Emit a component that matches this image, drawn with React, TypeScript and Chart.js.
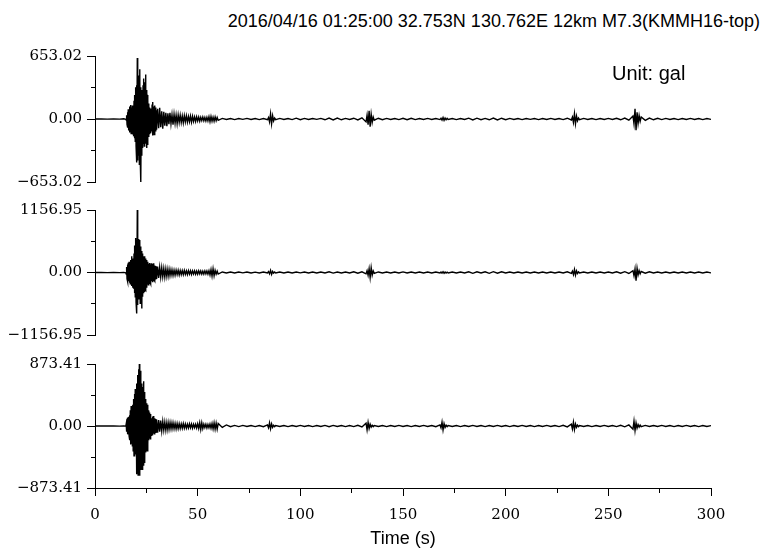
import React, { useEffect, useRef } from "react";
import { Chart, registerables } from "chart.js";

Chart.register(...registerables);

const titleText = "2016/04/16 01:25:00 32.753N 130.762E 12km M7.3(KMMH16-top)";
const unitText = "Unit: gal";
const xTitle = "Time (s)";

// shared time axis (s)
const timeS = [
  0, 3, 6, 9, 12, 14, 15,
  15.2, 15.4, 15.6, 15.8, 16, 16.2, 16.4, 16.6, 16.8, 17,
  17.2, 17.4, 17.6, 17.8, 18, 18.2, 18.4, 18.6, 18.8, 19,
  19.2, 19.4, 19.6, 19.8, 20, 20.2, 20.4, 20.6, 20.8, 21,
  21.2, 21.4, 21.6, 21.8, 22, 22.2, 22.4, 22.6, 22.8, 23,
  23.2, 23.4, 23.6, 23.8, 24, 24.2, 24.4, 24.6, 24.8, 25,
  25.2, 25.4, 25.6, 25.8, 26, 26.2, 26.4, 26.6, 26.8, 27,
  27.2, 27.4, 27.6, 27.8, 28, 28.2, 28.4, 28.6, 28.8, 29,
  29.2, 29.4, 29.6, 29.8, 30,
  30.5, 31, 31.5, 32, 32.5, 33, 33.5, 34, 34.5, 35,
  35.5, 36, 36.5, 37, 37.5, 38, 38.5, 39, 39.5, 40,
  40.5, 41, 41.5, 42, 42.5, 43, 43.5, 44, 44.5, 45,
  45.5, 46, 46.5, 47, 47.5, 48, 48.5, 49, 49.5, 50,
  50.5, 51, 51.5, 52, 52.5, 53, 53.5, 54, 54.5, 55,
  55.5, 56, 56.5, 57, 57.5, 58, 58.5, 59, 59.5, 60,
  62, 64, 66, 68, 70, 72, 74, 76, 78, 80, 82,
  84, 84.5, 85, 85.5, 86, 86.5, 87, 87.5, 88,
  90, 92, 94, 96, 98, 100, 102, 104, 106, 108,
  110, 112, 114, 116, 118, 120, 122, 124, 126, 128, 130,
  132, 132.5, 133, 133.5, 134, 134.5, 135, 135.5, 136,
  138, 140, 142, 144, 146, 148, 150, 152, 154, 156, 158, 160, 162, 164, 166,
  168, 168.5, 169, 169.5, 170, 170.5, 171, 171.5, 172,
  174, 176, 178, 180, 182, 184, 186, 188, 190, 192,
  194, 196, 198, 200, 202, 204, 206, 208, 210, 212,
  214, 216, 218, 220, 222, 224, 226, 228, 230,
  232, 232.5, 233, 233.5, 234, 234.5, 235, 235.5, 236,
  238, 240, 242, 244, 246, 248, 250, 252, 254, 256, 258, 260,
  262, 262.5, 263, 263.5, 264, 264.5, 265, 265.5, 266,
  268, 270, 272, 274, 276, 278, 280, 282, 284, 286,
  288, 290, 292, 294, 296, 298, 300,
];

// component 1 (gal)
const ewAccel = [
  0, 1, -1, 1, -1, 2, -3,
  -10, 40, -55, 70, -90, 100, -120, 95, -140, 130,
  -110, 145, -150, 120, -130, 140, -160, 110, -180, 190,
  -200, 250, -230, 330, -280, 350, -450, 632, -430, 450,
  -380, 360, -470, 515, -400, 330, -653.02, 300, -380, 280,
  -300, 350, -260, 420, -280, 380, -250, 460, -230, 300,
  -300, 250, -270, 200, -180, 160, -150, 120, -140, 110,
  -120, 90, -130, 150, -170, 175, -120, 130, -160, 140,
  -100, 120, -130, 90, -110,
  105, -95, 115, -85, 80, -100, 75, -70, 65, -75,
  60, -55, 65, -50, 45, -60, 50, -45, 40, -50,
  42, -35, 40, -36, 32, -40, 35, -30, 34, -32,
  26, -28, 30, -32, 28, -25, 22, -26, 22, -20,
  20, -22, 18, -17, 20, -18, 16, -20, 18, -20,
  24, -28, 26, -22, 20, -24, 22, -18, 16, -14,
  6, -5, 5, -6, 5, -4, 6, -5, 5, -6, 5,
  -8, 15, -30, 55, -50, 35, -20, 10, -6,
  6, -5, 5, -6, 9, -8, 6, -5, 5, -4,
  6, -8, 10, -9, 10, -8, 6, -5, 8, -10, 12,
  -30, 40, -60, 85, -80, 50, -35, 20, -12,
  8, -7, 6, -5, 5, -6, 7, -8, 7, -6, 5, -5, 6, -5, 5,
  -6, 8, -12, 15, -14, 10, -8, 6, -5,
  5, -6, 5, -5, 9, -10, 9, -7, 6, -8,
  10, -10, 8, -7, 6, -5, 5, -6, 5, -4,
  5, -6, 5, -5, 6, -5, 5, -6, 8,
  -10, 20, -35, 55, -50, 30, -18, 10, -8,
  6, -5, 5, -6, 5, -5, 6, -5, 7, -8, 10, -12,
  30, -50, 105, -115, 70, -45, 35, -25, 20,
  -14, 10, -8, 7, -6, 6, -5, 5, -6, 5,
  -5, 6, -5, 5, -6, 5, -4,
];

// component 2 (gal)
const nsAccel = [
  0, 2, -2, 2, -2, 3, -5,
  -30, 100, -120, 150, -170, 180, -160, 200, -190, 170,
  -210, 230, -180, 300, -250, 220, -280, 260, -300, 350,
  -380, 500, -450, 640, -550, 600, -760, 1156.95, -600, 520,
  -500, 620, -450, 600, -570, 480, -420, 400, -665, 350,
  -450, 300, -385, 280, -350, 300, -300, 260, -320, 230,
  -280, 200, -220, 180, -230, 160, -200, 175, -180, 150,
  -210, 170, -160, 140, -180, 160, -150, 170, -140, 130,
  -160, 120, -130, 110, -120,
  110, -100, 95, -85, 90, -80, 75, -85, 70, -75,
  65, -70, 60, -55, 50, -55, 45, -50, 45, -40,
  42, -45, 38, -40, 35, -38, 40, -35, 32, -38,
  35, -30, 32, -35, 30, -28, 32, -30, 28, -32,
  30, -25, 28, -30, 25, -28, 30, -25, 28, -30,
  35, -45, 55, -65, 70, -60, 40, -30, 25, -28,
  10, -8, 9, -10, 8, -7, 9, -8, 7, -9, 8,
  -10, 15, -25, 40, -35, 20, -12, 9, -8,
  9, -8, 10, -9, 8, -7, 9, -8, 10, -9,
  8, -10, 12, -11, 10, -8, 9, -10, 14, -12, 12,
  -25, 35, -50, 70, -95, 90, -50, 30, -15,
  10, -9, 8, -10, 9, -8, 12, -10, 9, -8, 10, -9, 8, -10, 9,
  -8, 10, -12, 15, -14, 10, -9, 8, -9,
  10, -8, 9, -10, 14, -16, 12, -10, 14, -16,
  15, -13, 12, -10, 9, -8, 10, -9, 8, -10,
  9, -8, 10, -9, 8, -10, 9, -8, 12,
  -15, 25, -40, 55, -50, 30, -18, 12, -9,
  10, -8, 9, -10, 8, -9, 10, -8, 12, -14, 15, -18,
  35, -60, 65, -150, 80, -45, 35, -25, 18,
  -14, 12, -10, 9, -8, 10, -9, 8, -10, 9,
  -8, 10, -9, 8, -10, 9, -8,
];

// component 3 (gal)
const udAccel = [
  0, 1, -1, 1, -2, 2, -4,
  30, -80, 100, -115, 120, -110, 130, -140, 150, -200,
  220, -260, 280, -250, 270, -280, 300, -350, 380, -420,
  450, -380, 520, -400, 480, -680, 600, -600, 720, -690,
  800, -560, 873.41, -700, 780, -620, 650, -590, 600, -610,
  550, -500, 630, -560, 480, -520, 380, -375, 350, -330,
  320, -350, 300, -260, 220, -200, 190, -180, 170, -190,
  150, -130, 110, -120, 130, -100, 140, -110, 100, -120,
  110, -90, 100, -85, 90,
  -95, 85, -80, 75, -70, 65, -60, 55, -60, 50,
  -55, 50, -45, 48, -42, 45, -40, 38, -42, 35,
  -38, 32, -35, 30, -32, 35, -30, 28, -30, 25,
  -28, 30, -25, 28, -30, 25, -22, 25, -28, 30,
  -35, 45, -50, 45, -35, 25, -22, 25, -28, 22,
  -25, 28, -30, 35, -40, 45, -45, 40, -45, 35,
  -20, 15, -10, 8, -8, 8, -7, 6, -8, 7, -9,
  15, -25, 45, -40, 30, -18, 10, -8, 7,
  -6, 7, -8, 6, -7, 8, -6, 7, -8, 6,
  -7, 8, -10, 9, -7, 6, -8, 7, -9, 10, -14,
  40, -55, 50, -35, 25, -15, 10, -8, 7,
  -6, 7, -8, 6, -7, 8, -6, 7, -8, 6, -7, 8, -6, 7, -10,
  15, -25, 55, -55, 35, -20, 12, -8, 7,
  -6, 7, -8, 6, -7, 8, -6, 7, -8, 6,
  -7, 8, -6, 7, -8, 6, -7, 8, -6, 7,
  -8, 6, -7, 8, -6, 7, -8, 10, -12,
  25, -40, 55, -50, 30, -18, 12, -8, 7,
  -6, 7, -8, 6, -7, 8, -6, 7, -8, 9, -12, 15,
  -45, 70, -65, 45, -30, 20, -15, 12, -10,
  8, -7, 6, -7, 8, -6, 7, -8, 6, -7,
  8, -6, 7, -8, 6, -7, 6,
];

// tick values
const ewTicks = [-653.02, -326.51, 0, 326.51, 653.02];
const nsTicks = [-1156.95, -578.475, 0, 578.475, 1156.95];
const udTicks = [-873.41, -436.705, 0, 436.705, 873.41];
const yTickMajor = [true, false, true, false, true];
const xTicks = [0, 25, 50, 75, 100, 125, 150, 175, 200, 225, 250, 275, 300];
const xTickLabels = ["0", "", "50", "", "100", "", "150", "", "200", "", "250", "", "300"];

const serif = "'DejaVu Serif', serif";
const sans = "'Liberation Sans', Arial, sans-serif";

function fmtY(v: number) {
  const s = Math.abs(v).toFixed(2);
  return v < 0 ? "\u2212" + s : s;
}

type PanelProps = {
  values: number[];
  ticks: number[];
  top: number;
  height: number;
  padTop: number;
  padBottom: number;
  showX: boolean;
};

function Panel({ values, ticks, top, height, padTop, padBottom, showX }: PanelProps) {
  const ref = useRef<HTMLCanvasElement | null>(null);
  useEffect(() => {
    if (!ref.current) return;
    const isMajorY = (v: number) => {
      const i = ticks.findIndex((t) => Math.abs(t - v) < 1e-6);
      return i >= 0 ? yTickMajor[i] : false;
    };
    const isMajorX = (v: number) => {
      const i = xTicks.indexOf(v);
      return i >= 0 ? xTickLabels[i] !== "" : false;
    };
    const chart = new Chart(ref.current, {
      type: "line",
      data: {
        datasets: [
          {
            data: timeS.map((t, i) => ({ x: t, y: values[i] })),
            borderColor: "#000",
            borderWidth: 1.4,
            pointRadius: 0,
            tension: 0,
            fill: false,
          },
        ],
      },
      options: {
        responsive: false,
        animation: false,
        events: [],
        layout: { padding: { left: 0, right: 52, top: padTop, bottom: padBottom } },
        plugins: {
          legend: { display: false },
          tooltip: { enabled: false },
          title: { display: false },
        },
        scales: {
          x: {
            type: "linear",
            min: 0,
            max: 300,
            display: showX,
            afterBuildTicks: (s: any) => {
              s.ticks = xTicks.map((v) => ({ value: v }));
            },
            afterFit: (s: any) => {
              if (showX) s.height = 68;
            },
            ticks: {
              autoSkip: false,
              maxRotation: 0,
              padding: 10,
              color: "#000",
              font: { family: serif, size: 15 },
              callback: (v: any) => {
                const i = xTicks.indexOf(Number(v));
                return i >= 0 ? xTickLabels[i] : "";
              },
            },
            grid: {
              drawOnChartArea: false,
              drawTicks: true,
              tickLength: 8,
              tickColor: "#000",
              tickWidth: 1,
              tickBorderDash: (ctx: any) => (isMajorX(ctx.tick?.value) ? [] : [4, 4]),
              tickBorderDashOffset: 0,
            },
            border: { display: true, color: "#000", width: 1 },
            title: {
              display: true,
              text: xTitle,
              color: "#000",
              font: { family: sans, size: 18 },
              padding: { top: 0, bottom: 6 },
            },
          },
          y: {
            type: "linear",
            min: ticks[0],
            max: ticks[ticks.length - 1],
            afterBuildTicks: (s: any) => {
              s.ticks = ticks.map((v) => ({ value: v }));
            },
            afterFit: (s: any) => {
              s.width = 95;
            },
            ticks: {
              autoSkip: false,
              padding: 5,
              color: "#000",
              font: { family: serif, size: 15 },
              callback: (v: any) => (isMajorY(Number(v)) ? fmtY(Number(v)) : ""),
            },
            grid: {
              drawOnChartArea: false,
              drawTicks: true,
              tickLength: 8,
              tickColor: "#000",
              tickWidth: 1,
              tickBorderDash: (ctx: any) => (isMajorY(ctx.tick?.value) ? [] : [4, 4]),
              tickBorderDashOffset: (ctx: any) => (isMajorY(ctx.tick?.value) ? 0 : 4),
            },
            border: { display: true, color: "#000", width: 1 },
          },
        },
      } as any,
    });
    return () => chart.destroy();
  }, []);
  return (
    <canvas
      ref={ref}
      width={763}
      height={height}
      style={{ position: "absolute", left: 0, top, width: 763, height, display: "block" }}
    />
  );
}

export default function App() {
  return (
    <div
      style={{
        position: "absolute",
        left: 0,
        top: 0,
        width: 763,
        height: 556,
        overflow: "hidden",
        background: "#fff",
      }}
    >
      <Panel values={ewAccel} ticks={ewTicks} top={40} height={160} padTop={16} padBottom={18} showX={false} />
      <Panel values={nsAccel} ticks={nsTicks} top={195} height={155} padTop={15} padBottom={15} showX={false} />
      <Panel values={udAccel} ticks={udTicks} top={349} height={207} padTop={15} padBottom={0} showX={true} />
      <div
        style={{
          position: "absolute",
          right: 3,
          top: 12,
          font: `18px ${sans}`,
          lineHeight: "18px",
          whiteSpace: "nowrap",
          color: "#000",
        }}
      >
        {titleText}
      </div>
      <div
        style={{
          position: "absolute",
          left: 612,
          top: 63,
          font: `20px ${sans}`,
          lineHeight: "20px",
          whiteSpace: "nowrap",
          color: "#000",
        }}
      >
        {unitText}
      </div>
    </div>
  );
}
